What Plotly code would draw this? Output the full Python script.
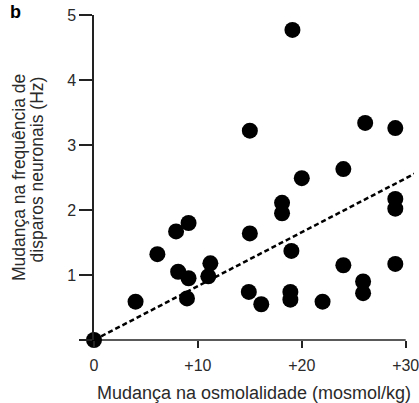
import plotly.graph_objects as go

# Data
osm_change = [0, 4.0, 6.1, 7.9, 9.1, 8.1, 9.1, 8.95, 11.2, 11.0,
              15.0, 15.0, 14.9, 16.1, 18.1, 18.1, 19.0, 18.9, 18.9, 19.1,
              20.0, 22.0, 24.0, 24.0, 25.9, 25.9, 26.1, 29.0, 29.0, 29.0, 29.0]
freq_change = [0, 0.59, 1.32, 1.67, 1.80, 1.05, 0.95, 0.64, 1.18, 0.98,
               3.22, 1.64, 0.74, 0.55, 2.11, 1.95, 1.37, 0.74, 0.62, 4.77,
               2.49, 0.59, 2.63, 1.15, 0.90, 0.72, 3.34, 3.26, 2.17, 2.02, 1.17]

fit_x = [0, 31]
fit_y = [0, 2.57]

x_ticks = [0, 10, 20, 30]
x_ticktext = ["0", "+10", "+20", "+30"]
y_ticks = [0, 1, 2, 3, 4, 5]
y_ticktext = ["", "1", "2", "3", "4", "5"]

FONT = "Liberation Sans, Arial, sans-serif"
TXT = "#2a2a2a"

fig = go.Figure()
fig.add_trace(go.Scatter(
    x=fit_x, y=fit_y, mode="lines",
    line=dict(color="black", width=2.5, dash="5px,3px"),
    hoverinfo="skip", showlegend=False,
))
fig.add_trace(go.Scatter(
    x=osm_change, y=freq_change, mode="markers",
    marker=dict(color="black", size=16, line=dict(width=0)),
    cliponaxis=False, showlegend=False,
))

# x-axis baseline from 0 to 30
fig.add_shape(type="line", xref="x", yref="paper", x0=x_ticks[0], x1=x_ticks[-1],
              y0=0, y1=0, line=dict(color="#222", width=1.5), layer="below")

fig.update_layout(
    width=419, height=403,
    margin=dict(l=94, r=0, t=15, b=63),
    paper_bgcolor="white", plot_bgcolor="white",
    font=dict(family=FONT, size=16, color=TXT),
    xaxis=dict(
        range=[0, 30.8], showline=False, showgrid=False, zeroline=False,
        tickvals=x_ticks, ticktext=x_ticktext, ticklabeloverflow="allow",
        ticks="outside", ticklen=7, tickwidth=1.5, tickcolor="#222",
        ticklabelstandoff=4,
        tickfont=dict(size=16, color=TXT),
        title=dict(text="Mudança na osmolalidade (mosmol/kg)",
                   font=dict(size=18, color=TXT), standoff=13),
    ),
    yaxis=dict(
        range=[0, 5], showline=True, linecolor="#222", linewidth=1.5,
        showgrid=False, zeroline=False,
        tickvals=y_ticks, ticktext=y_ticktext,
        ticks="outside", ticklen=13, tickwidth=1.5, tickcolor="#222",
        tickfont=dict(size=16, color=TXT),
    ),
    annotations=[
        dict(text="Mudança na frequência de",
             xref="paper", yref="paper", x=-0.236, y=0.50,
             xanchor="center", yanchor="middle", textangle=-90,
             showarrow=False, font=dict(size=17.5, color=TXT)),
        dict(text="disparos neuronais (Hz)",
             xref="paper", yref="paper", x=-0.178, y=0.525,
             xanchor="center", yanchor="middle", textangle=-90,
             showarrow=False, font=dict(size=17.5, color=TXT)),
        dict(text="<b>b</b>", xref="paper", yref="paper", x=-0.27, y=1.045,
             xanchor="left", yanchor="top", showarrow=False,
             font=dict(size=18, color="black")),
    ],
)

fig.write_html("out.html")
